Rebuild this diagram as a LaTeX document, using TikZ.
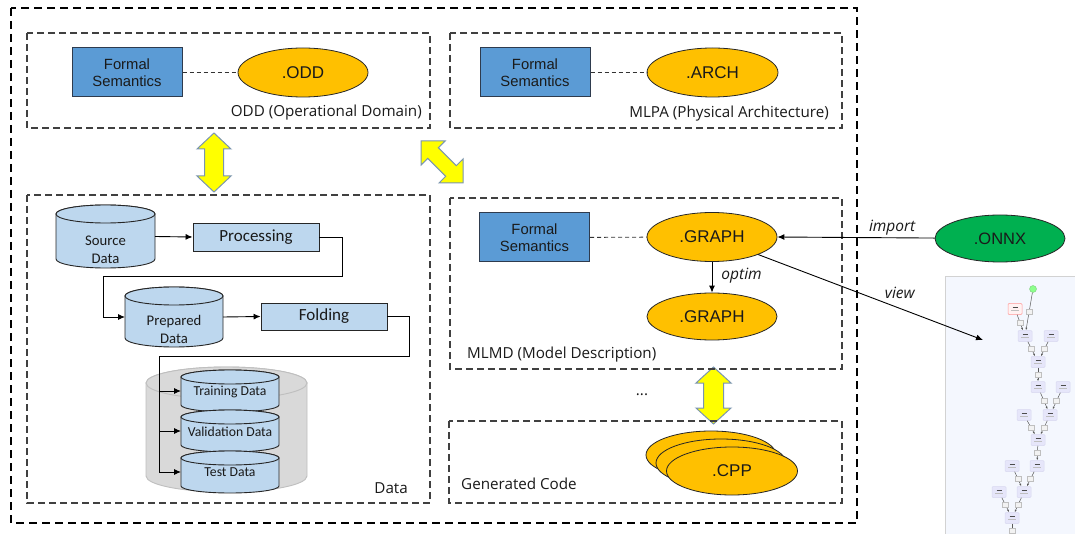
\documentclass[tikz,border=0pt]{standalone}
\usepackage{fontspec}
\setmainfont{Liberation Sans}
\newfontfamily\osans{Open Sans}
\newfontfamily\calib{Carlito}
\usetikzlibrary{arrows.meta,shapes.geometric}
\definecolor{fsblue}{HTML}{5B9BD5}
\definecolor{fsborder}{HTML}{2E3B4E}
\definecolor{orng}{HTML}{FFC000}
\definecolor{cylblue}{HTML}{BDD7EE}
\definecolor{cylgray}{HTML}{D9D9D9}
\definecolor{cylgrayb}{HTML}{BFBFBF}
\definecolor{yel}{HTML}{FFFF00}
\definecolor{yelb}{HTML}{7A95B0}
\definecolor{onnxg}{HTML}{00B050}
\definecolor{dashgray}{HTML}{404040}
\definecolor{txt}{HTML}{1A1A1A}
\definecolor{panel}{HTML}{F4F7FE}
\definecolor{mboxc}{HTML}{E6E6FA}
\definecolor{mboxb}{HTML}{D8D8F0}
\newcommand\cyl[7]{%
  \node[inner sep=0pt, outer sep=0pt, minimum width={#4-#2}, minimum height={#5-#3}] (#1) at ({(#2+#4)/2},{(#3+#5)/2}) {};
  \filldraw[#7] (#2,#3+#6) -- (#2,#5-#6) arc[start angle=180,end angle=0,x radius={(#4-#2)/2},y radius=#6] -- (#4,#3+#6) arc[start angle=0,end angle=-180,x radius={(#4-#2)/2},y radius=#6] -- cycle;
  \draw[#7] ({(#2+#4)/2},#3+#6) ellipse[x radius={(#4-#2)/2}, y radius=#6];
}
\newcommand\dblarrow[7]{%
  \begin{scope}[shift={(#1,#2)},rotate=#3]
  \filldraw[yarrow] (-#4/2,0) -- (-#4/2+#5,#6) -- (-#4/2+#5,#7) -- (#4/2-#5,#7) -- (#4/2-#5,#6) -- (#4/2,0) -- (#4/2-#5,-#6) -- (#4/2-#5,-#7) -- (-#4/2+#5,-#7) -- (-#4/2+#5,-#6) -- cycle;
  \end{scope}
}
\tikzset{
  dbox/.style={draw=dashgray, line width=1.1pt, dash pattern=on 7pt off 4pt},
  obox/.style={draw=black, line width=1.1pt, dash pattern=on 8pt off 5pt},
  fsbox/.style={draw=fsborder, fill=fsblue, line width=1pt, minimum width=110pt, minimum height=49pt, inner sep=0pt, align=center, text=txt, font=\fontsize{14.8}{17.5}\selectfont},
  oval/.style={ellipse, draw=black!85, fill=orng, line width=0.8pt, minimum width=130pt, minimum height=49pt, inner sep=0pt, text=txt, font=\fontsize{17}{20}\selectfont},
  semline/.style={draw=black!80, line width=0.9pt, dash pattern=on 4pt off 3pt},
  lbl/.style={inner sep=0pt, text=txt, font=\osans\fontsize{15.2}{18}\selectfont},
  elbl/.style={inner sep=0pt, text=txt, font=\osans\itshape\fontsize{15.5}{18}\selectfont},
  arr/.style={draw=black, line width=0.9pt, -{Latex[length=7pt,width=6pt]}},
  pbox/.style={draw=black!85, fill=cylblue, line width=0.9pt, minimum width=126pt, minimum height=28pt, inner sep=0pt, text=txt, font=\calib\fontsize{17}{20}\selectfont},
  cylst/.style={draw=black!85, fill=cylblue, line width=0.9pt},
  cylgr/.style={draw=cylgrayb, fill=cylgray, line width=0.9pt},
  ctext/.style={inner sep=0pt, align=center, text=txt, font=\calib\fontsize{14.7}{18}\selectfont},
  cstext/.style={inner sep=0pt, text=txt, font=\calib\fontsize{13.7}{16}\selectfont},
  yarrow/.style={draw=yelb, fill=yel, line width=1pt, line join=miter},
  mbox/.style={draw=mboxb, fill=mboxc, line width=0.5pt, rounded corners=1pt, minimum width=14pt, minimum height=11pt, inner sep=0pt},
  mtag/.style={draw=gray!50, fill=gray!10, line width=0.3pt, minimum width=6pt, minimum height=5pt, inner sep=0pt},
  medge/.style={draw=gray!70!black, line width=0.5pt, -{Latex[length=2.5pt,width=2pt]}},
}
\begin{document}
\begin{tikzpicture}[x=1pt,y=-1pt]
\useasboundingbox (0,0) rectangle (1075,534);
\fill[white] (0,0) rectangle (1075,534);

% outer box
\draw[obox] (11,8) rectangle (857,523);

% ODD
\draw[dbox] (27,33) rectangle (430,128);
\node[fsbox] (fs1) at (127,72.5) {Formal\\Semantics};
\node[oval] (odd) at (303,72.5) {.ODD};
\draw[semline] (fs1) -- (odd);
\node[lbl, anchor=east] (oddl) at (422,113) {ODD (Operational Domain)};

% MLPA
\draw[dbox] (450,33) rectangle (842,128);
\node[fsbox] (fs2) at (535,72.5) {Formal\\Semantics};
\node[oval, minimum width=131pt] (arch) at (712.5,72.5) {.ARCH};
\draw[semline] (fs2) -- (arch);
\node[lbl, anchor=east] (mlpal) at (829,114) {MLPA (Physical Architecture)};

% yellow arrows
\dblarrow{214}{162.5}{90}{59}{16}{17}{9.5}
\dblarrow{442}{162}{-45}{59.4}{17}{17}{7.5}
\dblarrow{713.5}{395.5}{90}{57}{16}{17.5}{10}

% Data
\draw[dbox] (27,195) rectangle (430,503);
\cyl{src}{56}{205}{155}{268}{9}{cylst}
\node[ctext] (srct) at (105.5,250) {Source\\Data};
\node[pbox] (proc) at (256,237) {Processing};
\cyl{prep}{125}{287}{223}{347}{9}{cylst}
\node[ctext] (prept) at (174,329) {Prepared\\Data};
\node[pbox, minimum height=27pt] (fold) at (324,316.5) {Folding};
\cyl{grp}{146}{367}{307}{492}{16}{cylgr}
\cyl{train}{181}{370}{279}{412}{7}{cylst}
\cyl{valid}{181}{410}{279}{452}{7}{cylst}
\cyl{test}{181}{451}{279}{493}{7}{cylst}
\node[cstext] (traint) at (230,392) {Training Data};
\node[cstext] (validt) at (230,432) {Validation Data};
\node[cstext] (testt) at (230,472) {Test Data};
\draw[arr] (src.east) -- (proc.west);
\draw[arr] (proc.east) -- (342,237) -- (342,276) -- (103,276) |- (prep.west);
\draw[arr] (prep.east) -- (fold.west);
\draw[arr] (fold.east) -- (409,316.5) -- (409,356) -- (159,356) |- (test.west);
\draw[arr] (159,391) -- (train.west);
\draw[arr] (159,431) -- (valid.west);
\node[lbl, anchor=east] (datal) at (408,488) {Data};

% MLMD
\draw[dbox] (450,198) rectangle (842,369);
\node[fsbox] (fs3) at (534.5,237.5) {Formal\\Semantics};
\node[oval] (g1) at (712,237) {.GRAPH};
\node[oval, minimum height=47pt] (g2) at (712,316.5) {.GRAPH};
\draw[semline] (fs3) -- (g1);
\draw[arr] (g1) -- node[elbl, right=9pt, pos=0.45] (optl) {optim} (g2);
\node[lbl, anchor=west] (mlmdl) at (467,355) {MLMD (Model Description)};

% ONNX
\node[oval, fill=onnxg, minimum width=130pt, minimum height=47pt, font=\fontsize{16.5}{19}\selectfont] (onnx) at (1000,238.5) {.ONNX};
\draw[arr] (onnx) -- node[elbl, above=2pt, pos=0.27] (impl) {import} (g1.east);

% graph picture
\node[draw=gray!35, fill=panel, line width=0.8pt, minimum width=132pt, minimum height=260pt, inner sep=0pt, anchor=north west] (img) at (945,276) {};
\node[circle, fill=green!45, draw=green!60!black!50, line width=0.4pt, minimum size=7pt, inner sep=0pt] (m0) at (1033,289) {};
\node[mbox, draw=red!40, fill=red!5] (m1) at (1015,309) {};
\node[mbox] (m2) at (1025,336) {};
\node[mbox] (m3) at (1051,336) {};
\node[mbox] (m4) at (1038,362) {};
\node[mbox] (m5) at (1038,387) {};
\node[mbox] (m6) at (1063,387) {};
\node[mbox] (m7) at (1024,415) {};
\node[mbox] (m8) at (1050,415) {};
\node[mbox] (m9) at (1038,440) {};
\node[mbox] (m10) at (1037,466) {};
\node[mbox] (m11) at (1012,466) {};
\node[mbox] (m12) at (999,492) {};
\node[mbox] (m13) at (1024,492) {};
\node[mbox] (m14) at (1012,518) {};
\coordinate (mend) at (1012,534);
\draw[medge] (m0) -- node[mtag]{} (m2);
\draw[medge] (m1) -- node[mtag]{} (m2);
\draw[medge] (m2) -- node[mtag]{} (m4);
\draw[medge] (m3) -- node[mtag]{} (m4);
\draw[medge] (m4) -- node[mtag]{} (m5);
\draw[medge] (m5) -- node[mtag]{} (m8);
\draw[medge] (m6) -- node[mtag]{} (m8);
\draw[medge] (m7) -- node[mtag]{} (m9);
\draw[medge] (m8) -- node[mtag]{} (m9);
\draw[medge] (m9) -- node[mtag]{} (m10);
\draw[medge] (m10) -- node[mtag]{} (m13);
\draw[medge] (m11) -- node[mtag]{} (m13);
\draw[medge] (m12) -- node[mtag]{} (m14);
\draw[medge] (m13) -- node[mtag]{} (m14);
\draw[draw=gray!70!black, line width=0.5pt] (m14) -- node[mtag, pos=0.7]{} (mend);
\foreach \n in {m1,m2,m3,m4,m5,m6,m7,m8,m9,m10,m11,m12,m13,m14}{
  \draw[gray!60!black, line width=0.4pt] ([xshift=-2.5pt,yshift=1.8pt]\n.center) -- ++(5pt,0);
  \draw[gray!50, line width=0.3pt] ([xshift=-4pt,yshift=-1.5pt]\n.center) -- ++(8pt,0);
}

% view arrow
\coordinate (vt) at (983,340);
\draw[arr] (g1) -- node[elbl, pos=0.63, above=9pt] (viewl) {view} (vt);

% dots
\node[lbl] (dots) at (642,395) {...};

% Generated code
\draw[dbox] (449,421) rectangle (842,503);
\node[oval, minimum width=130pt, minimum height=48pt] (cpp3) at (711,455) {};
\node[oval, minimum width=130pt, minimum height=48pt] (cpp2) at (721,463) {};
\node[oval, minimum width=131pt, minimum height=48pt] (cpp1) at (732,471) {.CPP};
\node[lbl, anchor=west] (genl) at (461,484) {Generated Code};
\end{tikzpicture}
\end{document}
